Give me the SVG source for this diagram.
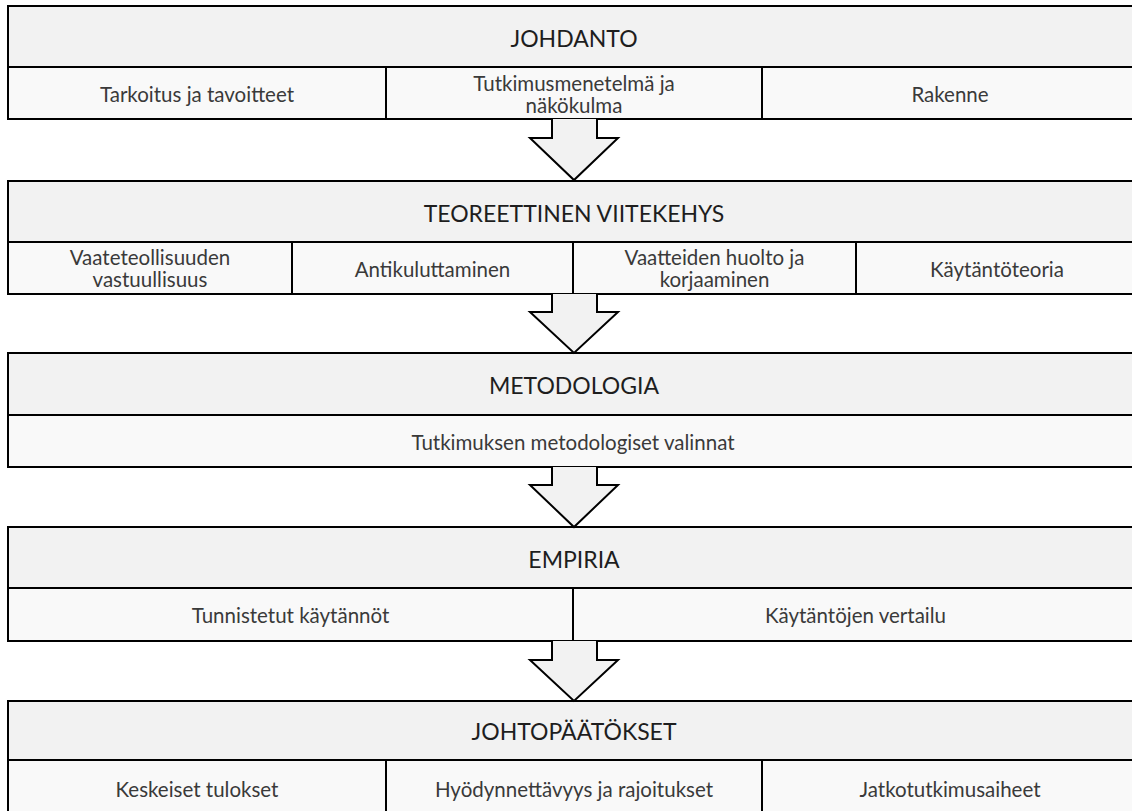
<svg xmlns="http://www.w3.org/2000/svg" width="1132" height="811" viewBox="0 0 1132 811">
<style>
.bg{fill:#ffffff}
.hd{fill:#f2f2f2;stroke:#000;stroke-width:2}
.cell{fill:#f9f9f9;stroke:#000;stroke-width:2}
.arr{fill:#f2f2f2;stroke:#000;stroke-width:2;stroke-linejoin:miter}
.h{font-family:Lato,"Open Sans",sans-serif;font-size:23px;fill:#1e1e1e;text-anchor:middle}
.t{font-family:Lato,"Open Sans",sans-serif;font-size:20.5px;fill:#3a3a3a;text-anchor:middle}
</style>
<rect class="bg" x="0" y="0" width="1132" height="811"/>
<g id="johdanto">
<rect class="hd" x="8" y="6" width="1130" height="61"/>
<text class="h" x="574" y="46.5">JOHDANTO</text>
<rect class="cell" x="8" y="67" width="378" height="52"/>
<rect class="cell" x="386" y="67" width="376" height="52"/>
<rect class="cell" x="762" y="67" width="376" height="52"/>
<text class="t" x="197" y="101.5">Tarkoitus ja tavoitteet</text>
<text class="t" x="574" y="90.5">Tutkimusmenetelmä ja</text>
<text class="t" x="574" y="113">näkökulma</text>
<text class="t" x="950" y="101.5">Rakenne</text>
</g>
<g id="teoreettinen">
<rect class="hd" x="8" y="181" width="1130" height="61"/>
<text class="h" x="574" y="221.5">TEOREETTINEN VIITEKEHYS</text>
<rect class="cell" x="8" y="242" width="284" height="52"/>
<rect class="cell" x="292" y="242" width="281" height="52"/>
<rect class="cell" x="573" y="242" width="283" height="52"/>
<rect class="cell" x="856" y="242" width="282" height="52"/>
<text class="t" x="150" y="264.5">Vaateteollisuuden</text>
<text class="t" x="150" y="287">vastuullisuus</text>
<text class="t" x="432.5" y="277">Antikuluttaminen</text>
<text class="t" x="714.5" y="264.5">Vaatteiden huolto ja</text>
<text class="t" x="714.5" y="287">korjaaminen</text>
<text class="t" x="997" y="277">Käytäntöteoria</text>
</g>
<g id="metodologia">
<rect class="hd" x="8" y="353" width="1130" height="62"/>
<text class="h" x="574" y="394">METODOLOGIA</text>
<rect class="cell" x="8" y="415" width="1130" height="52"/>
<text class="t" x="573" y="449.5">Tutkimuksen metodologiset valinnat</text>
</g>
<g id="empiria">
<rect class="hd" x="8" y="527" width="1130" height="61"/>
<text class="h" x="574" y="567.5">EMPIRIA</text>
<rect class="cell" x="8" y="588" width="565" height="53"/>
<rect class="cell" x="573" y="588" width="565" height="53"/>
<text class="t" x="290.5" y="623">Tunnistetut käytännöt</text>
<text class="t" x="855.5" y="623">Käytäntöjen vertailu</text>
</g>
<g id="johtopaatokset">
<rect class="hd" x="8" y="701" width="1130" height="59"/>
<text class="h" x="574" y="740">JOHTOPÄÄTÖKSET</text>
<rect class="cell" x="8" y="760" width="378" height="62"/>
<rect class="cell" x="386" y="760" width="376" height="62"/>
<rect class="cell" x="762" y="760" width="376" height="62"/>
<text class="t" x="197" y="797">Keskeiset tulokset</text>
<text class="t" x="574" y="797">Hyödynnettävyys ja rajoitukset</text>
<text class="t" x="950" y="797">Jatkotutkimusaiheet</text>
</g>
<g id="connectors">
<path class="arr" d="M552,119 L552,138 L530,138 L574,180 L618,138 L597,138 L597,119"/>
<path class="arr" d="M552,294 L552,312 L530,312 L574,353 L618,312 L597,312 L597,294"/>
<path class="arr" d="M552,467 L552,485 L530,485 L574,527 L618,485 L597,485 L597,467"/>
<path class="arr" d="M552,641 L552,660 L530,660 L574,701 L618,660 L597,660 L597,641"/>
</g>
</svg>
